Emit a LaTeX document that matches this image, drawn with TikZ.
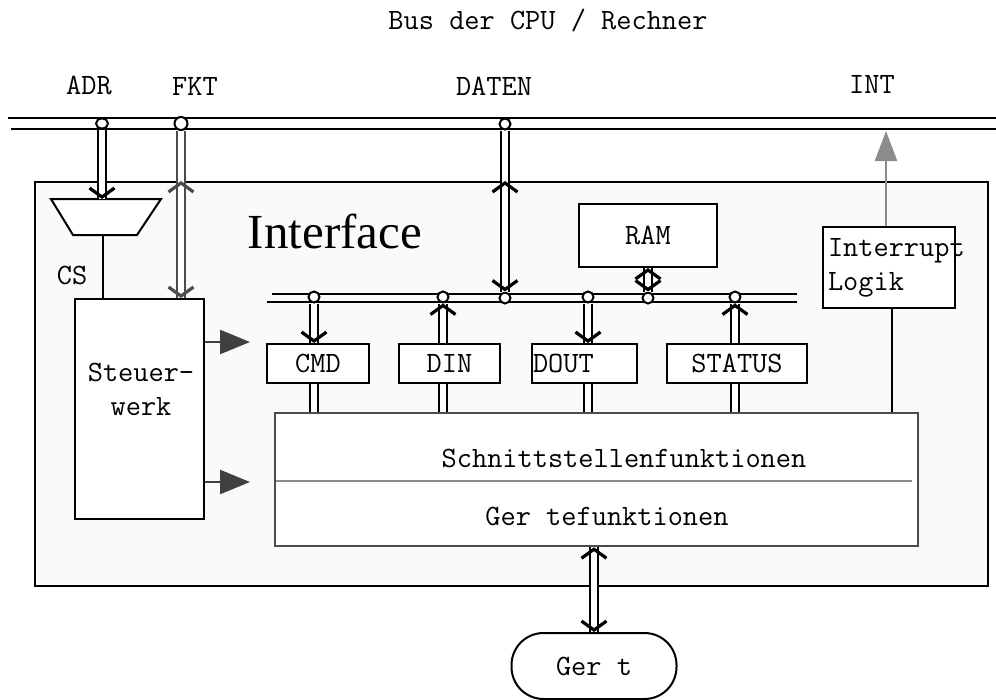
\documentclass[tikz,border=0pt]{standalone}
\usepackage{fontspec}
\setmainfont{Liberation Serif}
\usetikzlibrary{arrows.meta,shapes.geometric,decorations.markings}

\begin{document}
\begin{tikzpicture}[x=1pt, y=-1pt, line width=2pt,
  font=\ttfamily\fontsize{29.5}{34}\selectfont,
  box/.style={draw, fill=white, inner sep=0pt, minimum height=39pt},
  tap/.style={circle, draw, fill=white, inner sep=0pt, minimum size=11pt},
  dbl/.style={double, double distance=5.5pt, line width=2pt},
  bar/.style={postaction={decorate, decoration={markings, mark=at position 1 with
    {\pgfsetinnerlinewidth{0pt}\arrow[line width=3.2pt]{Straight Barb[length=9pt, width=25pt]}}}}},
  barbar/.style={bar, postaction={decorate, decoration={markings, mark=at position 0 with
    {\pgfsetinnerlinewidth{0pt}\arrowreversed[line width=3.2pt]{Straight Barb[length=9pt, width=25pt]}}}}},
  fat/.style={-{Triangle[length=30pt, width=24pt]}}]
\useasboundingbox (0,0) rectangle (996,699);

\node[anchor=base] at (548,29) {Bus der CPU / Rechner};
\node[anchor=base] at (89,94) {ADR};
\node[anchor=base] at (195,95) {FKT};
\node[anchor=base] at (494,95) {DATEN};
\node[anchor=base] at (872,93) {INT};

% Rechnerbus
\draw (8,118) -- (996,118) (11,129) -- (996,129);

\node[draw, fill=black!2, minimum width=953pt, minimum height=404pt, inner sep=0pt] (iface) at (511.5,384) {};
\node[anchor=base, font=\rmfamily\fontsize{49}{50}\selectfont] at (335,248) {Interface};

% interner Bus
\draw (272,294) -- (797,294) (267,302) -- (797,302);

% Adressdecoder
\draw[fill=white] (51,199) -- (161,199) -- (137,235) -- (73,235) -- cycle;
\coordinate (dec-t) at (102,199);
\coordinate (dec-b) at (103,235);
\node[anchor=base] at (72,284) {CS};

\node[box, minimum width=129pt, minimum height=220pt] (sw) at (139.5,409) {};
\node[align=center] at (141,389) {Steuer-\\werk};

\node[box, minimum width=138pt, minimum height=63pt] (ram) at (648,235.5) {RAM};
\node[box, minimum width=102pt] (cmd) at (318,363.5) {CMD};
\node[box, minimum width=101pt] (din) at (449.5,363.5) {DIN};
\node[box, minimum width=105pt, text width=103pt, align=left, inner xsep=1pt] (dout) at (584.5,363.5) {DOUT};
\node[box, minimum width=140pt] (status) at (737,363.5) {STATUS};
\node[box, minimum width=132pt, minimum height=81pt, text width=122pt, align=left, inner xsep=5pt] (intl) at (889,267.5) {\mbox{Interrupt}\\Logik};

\node[box, draw=black!70, line width=2.5pt, minimum width=643pt, minimum height=133pt] (fkt) at (596.5,479.5) {};
\draw[black!45] (276,481) -- (912,481);
\node[anchor=base] at (624,467) {Schnittstellenfunktionen};
\node[anchor=base] at (607,525) {Ger tefunktionen};

\node[draw, rounded corners=32pt, minimum width=165pt, minimum height=66pt] (geraet) at (594,666) {Ger t};

% Abgriffe
\node[tap, ellipse, minimum width=12pt, minimum height=10pt] (c-adr) at (102,123.5) {};
\node[tap, minimum size=13pt] (c-fkt) at (181,123.5) {};
\node[tap] (c-daten) at (505,124) {};
\node[tap] (c-cmd) at (314,297) {};
\node[tap] (c-din) at (443,297) {};
\node[tap] (c-bus) at (505,298) {};
\node[tap] (c-dout) at (588,297) {};
\node[tap] (c-ram) at (648,298) {};
\node[tap] (c-status) at (735,297) {};

\coordinate (fkt-in) at (iface.north -| c-fkt);
\coordinate (daten-in) at (iface.north -| c-daten);

\draw[dbl, bar] (c-adr) -- (dec-t);
\draw (dec-b) -- (dec-b |- sw.north);
\draw[dbl, black!70] (c-fkt) -- (fkt-in);
\draw[dbl, black!70, barbar] (fkt-in) -- (sw.north -| c-fkt);
\draw[dbl] (c-daten) -- (daten-in);
\draw[dbl, barbar] (daten-in) -- (c-bus);

\draw[dbl, bar] (c-cmd) -- (c-cmd |- cmd.north);
\draw[dbl, bar] (c-din |- din.north) -- (c-din);
\draw[dbl, bar] (c-dout) -- (c-dout |- dout.north);
\draw[dbl, barbar] (c-ram |- ram.south) -- (c-ram);
\draw[dbl, bar] (c-status |- status.north) -- (c-status);

\draw[dbl] (c-cmd |- cmd.south) -- (c-cmd |- fkt.north);
\draw[dbl] (c-din |- din.south) -- (c-din |- fkt.north);
\draw[dbl] (c-dout |- dout.south) -- (c-dout |- fkt.north);
\draw[dbl] (c-status |- status.south) -- (c-status |- fkt.north);
\draw ([xshift=3pt]intl.south) -- ([xshift=3pt]intl.south |- fkt.north);
\draw[black!45, line width=2.5pt, -{Triangle[length=30pt, width=22pt]}] ([xshift=-3pt]intl.north) -- (886,131);

\draw[black!75, line width=2.5pt, fat] (sw.east |- 0,342) -- (250,342);
\draw[black!75, line width=2.5pt, fat] (sw.east |- 0,482) -- (250,482);

\draw[dbl, barbar] (geraet.north |- fkt.south) -- (geraet.north);
\end{tikzpicture}
\end{document}
